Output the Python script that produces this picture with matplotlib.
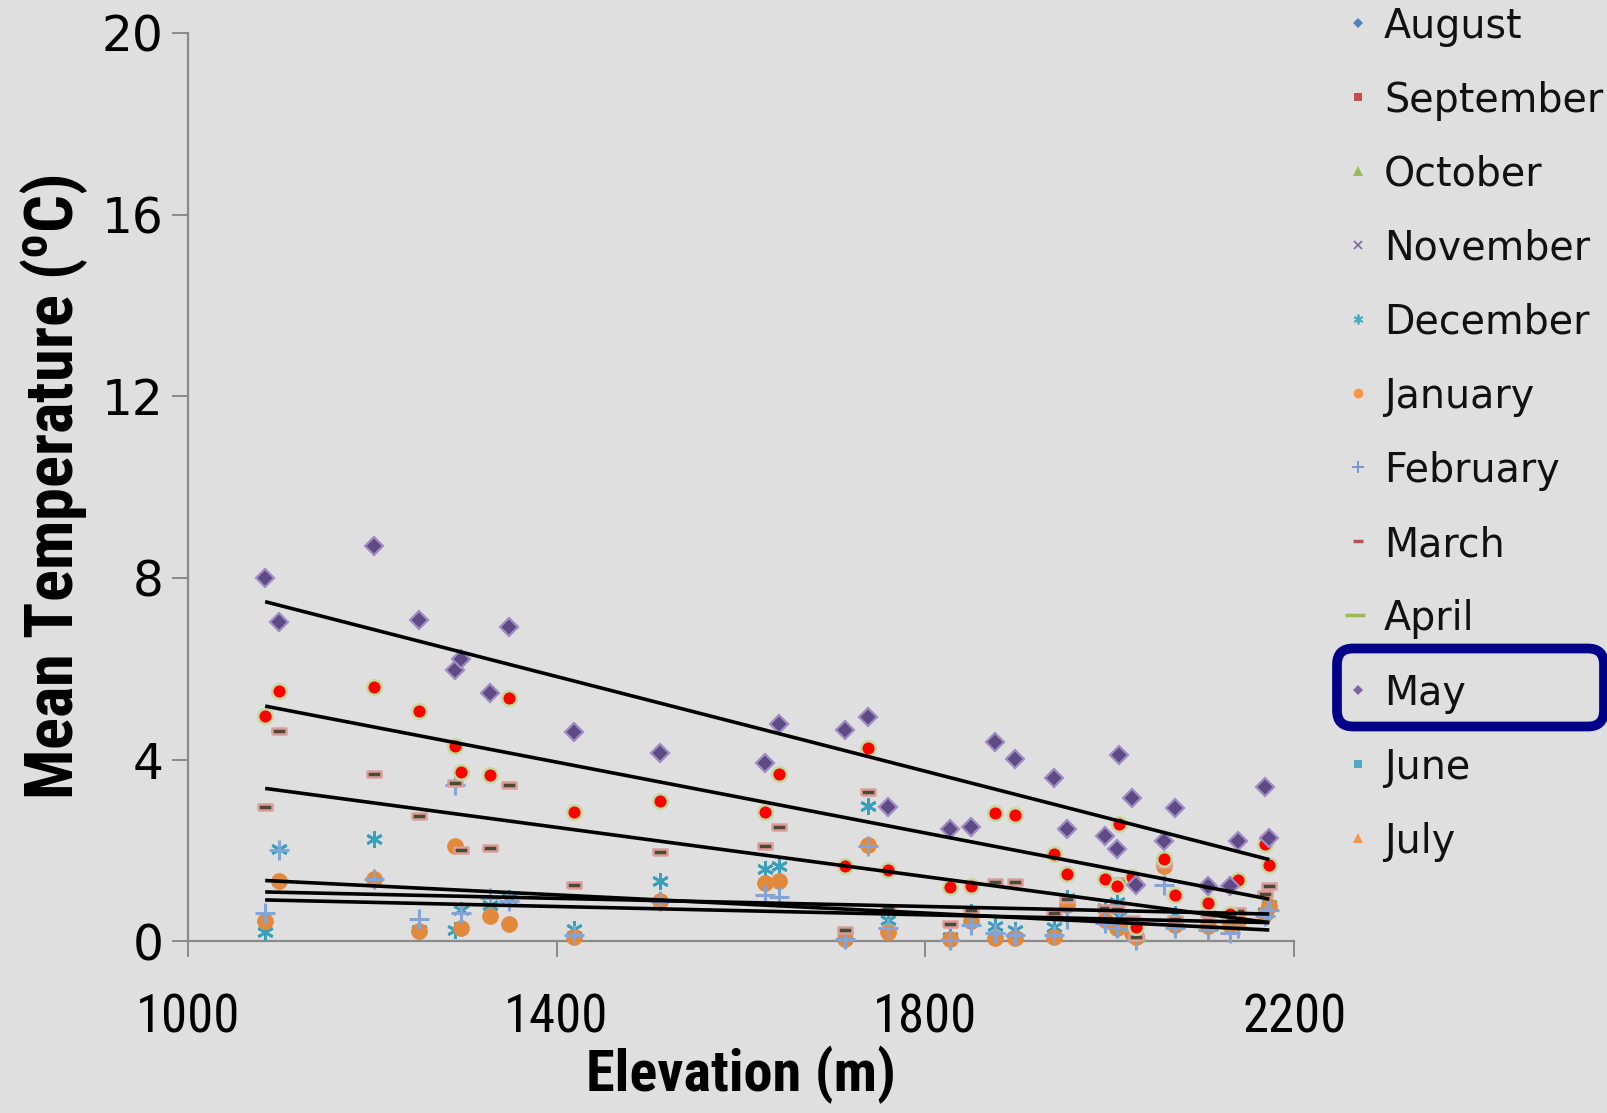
import numpy as np
import matplotlib
matplotlib.use('Agg')
import matplotlib.pyplot as plt
from matplotlib import font_manager
from matplotlib.lines import Line2D
from matplotlib.patches import FancyBboxPatch
from matplotlib.transforms import IdentityTransform

# ---------------- data ----------------
elevation = [1084, 1099, 1202, 1251, 1290, 1296, 1328, 1348, 1419, 1512, 1626, 1641,
             1713, 1738, 1759, 1827, 1850, 1876, 1897, 1940, 1954, 1995, 2008, 2010,
             2024, 2028, 2059, 2071, 2106, 2130, 2139, 2168, 2173]

may = [8.01, 7.03, 8.70, 7.07, 5.98, 6.21, 5.47, 6.91, 4.60, 4.15, 3.93, 4.78,
       4.65, 4.94, 2.96, 2.48, 2.52, 4.38, 4.01, 3.60, 2.47, 2.33, 2.03, 4.10,
       3.16, 1.25, 2.21, 2.94, 1.23, 1.21, 2.20, 3.39, 2.28]

april = [4.96, 5.52, 5.61, 5.07, 4.30, 3.72, 3.66, 5.36, 2.84, 3.08, 2.85, 3.68,
         1.66, 4.25, 1.57, 1.20, 1.21, 2.82, 2.78, 1.93, 1.48, 1.37, 1.22, 2.58,
         1.42, 0.32, 1.81, 1.02, 0.84, 0.60, 1.35, 2.14, 1.69]

march = [2.95, 4.64, 3.69, 2.76, 3.49, 2.02, 2.05, 3.45, 1.24, 1.97, 2.10, 2.51,
         0.25, 3.29, 0.73, 0.39, 0.69, 1.31, 1.31, 0.62, 0.93, 0.74, 0.72, 1.32,
         0.49, 0.09, 1.71, 0.49, 0.60, 0.55, 0.67, 1.05, 1.21]

december = [0.21, 2.03, 2.25, 0.25, 0.25, 0.69, 0.80, 0.95, 0.27, 1.32, 1.59, 1.66,
            0.10, 2.99, 0.47, 0.10, 0.65, 0.34, 0.25, 0.32, 0.95, 0.73, 0.86, 0.55,
            0.30, 0.10, 1.80, 0.60, 0.50, 0.46, 0.40, 0.65, 0.80]

january = [0.44, 1.34, 1.37, 0.23, 2.10, 0.30, 0.57, 0.38, 0.10, 0.90, 1.28, 1.32,
           0.05, 2.12, 0.21, 0.05, 0.44, 0.07, 0.07, 0.09, 0.80, 0.47, 0.29, 0.35,
           0.18, 0.10, 1.65, 0.36, 0.33, 0.36, 0.45, 0.60, 0.77]

february = [0.62, 2.02, 1.37, 0.49, 3.44, 0.62, 0.95, 0.90, 0.14, 0.90, 1.02, 0.98,
            0.05, 2.10, 0.30, 0.02, 0.36, 0.18, 0.15, 0.14, 0.50, 0.40, 0.29, 0.70,
            0.25, 0.03, 1.24, 0.29, 0.25, 0.18, 0.30, 0.55, 0.70]

legend_months = ['August', 'September', 'October', 'November', 'December', 'January',
                 'February', 'March', 'April', 'May', 'June', 'July']
x_ticks = [1000, 1400, 1800, 2200]
y_ticks = [0, 4, 8, 12, 16, 20]
highlighted = 'May'


# ---------------- fonts ----------------
def pick_font(cands):
    for c in cands:
        try:
            font_manager.findfont(font_manager.FontProperties(family=c), fallback_to_default=False)
            return c
        except Exception:
            continue
    return 'DejaVu Sans'

narrow = pick_font(['Liberation Sans Narrow', 'Roboto Condensed', 'Open Sans Condensed'])
narrow_stretch = 'normal' if narrow != 'DejaVu Sans' else 'condensed'

W, H = 1608, 1113
fig = plt.figure(figsize=(W / 100, H / 100), dpi=100)
bg = '#dfdfdf'
fig.patch.set_facecolor(bg)

left, right, top, bottom = 187.7, 1294.2, 32.8, 941.4
ax = fig.add_axes([left / W, 1 - bottom / H, (right - left) / W, (bottom - top) / H])
ax.set_facecolor('none')

ax.set_xlim(1000, 2200)
ax.set_ylim(0, 20)

# series styles
styles = {
    'December': dict(marker=(6, 2, 0), ms=12, mfc='none', mec='#3a9fba', mew=2.0),
    'January': dict(marker='o', ms=11.5, mfc='#e3893b', mec='#e3893b', mew=0.5),
    'February': dict(marker='+', ms=15, mfc='none', mec='#85a4d6', mew=2.2),
    'March': dict(marker=[(-1, -0.38), (1, -0.38), (1, 0.38), (-1, 0.38), (-1, -0.38)],
                  ms=10.5, mfc='#4b4b35', mec='#dc9c9a', mew=1.8),
    'April': dict(marker='o', ms=10.5, mfc='#ff0000', mec='#c5d99f', mew=1.8),
    'May': dict(marker='D', ms=9.5, mfc='#5e4a85', mec='#a08cc2', mew=1.6),
}
series = [('December', december), ('January', january), ('February', february),
          ('March', march), ('April', april), ('May', may)]

for z, (name, vals) in enumerate(series):
    st = styles[name]
    ax.plot(elevation, vals, linestyle='none', clip_on=False, zorder=3 + z, **st)

# linear trendlines
xe = np.array(elevation, dtype=float)
xs = np.array([xe.min(), xe.max()])
for name, vals in series:
    k, b = np.polyfit(xe, np.array(vals, dtype=float), 1)
    ax.plot(xs, k * xs + b, color='black', lw=2.6, zorder=20, solid_capstyle='butt')

# axes styling
for s in ['top', 'right']:
    ax.spines[s].set_visible(False)
for s in ['left', 'bottom']:
    ax.spines[s].set_color('#8a8a8a')
    ax.spines[s].set_linewidth(1.6)

ax.set_xticks(x_ticks)
ax.set_yticks(y_ticks)
ax.tick_params(axis='both', direction='out', length=11.5, width=1.4, color='#8a8a8a')
ax.tick_params(axis='y', pad=6)
ax.tick_params(axis='x', pad=25)
for lab in ax.get_yticklabels():
    lab.set_fontfamily('DejaVu Sans')
    lab.set_fontsize(35)
for lab in ax.get_xticklabels():
    lab.set_fontfamily(narrow)
    lab.set_fontstretch(narrow_stretch)
    lab.set_fontsize(38)

ax.set_xlabel('Elevation (m)', fontfamily=narrow, fontstretch=narrow_stretch,
              fontweight='bold', fontsize=42, labelpad=2)
ax.set_ylabel(r'Mean Temperature ($\mathregular{^o}$C)', fontfamily=narrow,
              fontstretch=narrow_stretch, fontweight='bold', fontsize=48, labelpad=8)

# legend (manual)
leg_styles = {
    'August': dict(marker='D', ms=5, mfc='#4f81bd', mec='#4f81bd', mew=0),
    'September': dict(marker='s', ms=5.5, mfc='#c0504d', mec='#c0504d', mew=0),
    'October': dict(marker='^', ms=7, mfc='#9bbb59', mec='#9bbb59', mew=0),
    'November': dict(marker='x', ms=6, mfc='none', mec='#8064a2', mew=1.2),
    'December': dict(marker=(6, 2, 0), ms=7, mfc='none', mec='#4bacc6', mew=1.3),
    'January': dict(marker='o', ms=7, mfc='#f79646', mec='#f79646', mew=0),
    'February': dict(marker='+', ms=9, mfc='none', mec='#6f93cf', mew=1.3),
    'March': dict(marker='_', ms=7, mfc='none', mec='#c0504d', mew=2.5),
    'April': dict(marker='_', ms=14, mfc='none', mec='#9bbb59', mew=2.5),
    'May': dict(marker='D', ms=5, mfc='#8064a2', mec='#8064a2', mew=0),
    'June': dict(marker='s', ms=5.5, mfc='#4bacc6', mec='#4bacc6', mew=0),
    'July': dict(marker='^', ms=7, mfc='#f79646', mec='#f79646', mew=0),
}
y0, dy = 22.6, 74.1
for i, m in enumerate(legend_months):
    yc = y0 + i * dy
    mx = 1358 if m != 'April' else 1355
    fig.add_artist(Line2D([mx / W], [1 - yc / H], transform=fig.transFigure,
                          linestyle='none', **leg_styles[m]))
    fig.text(1384 / W, 1 - (yc + 15) / H, m, fontsize=28.5, fontfamily='DejaVu Sans',
             va='baseline', ha='left', color='#111111')
    if m == highlighted:
        box = FancyBboxPatch((1337, H - (yc + 37)), 267, 78,
                             boxstyle='round,pad=0,rounding_size=16',
                             transform=IdentityTransform(), lw=7,
                             edgecolor='#000088', facecolor='none')
        fig.add_artist(box)

fig.savefig('out.png', dpi=100, facecolor=bg)
